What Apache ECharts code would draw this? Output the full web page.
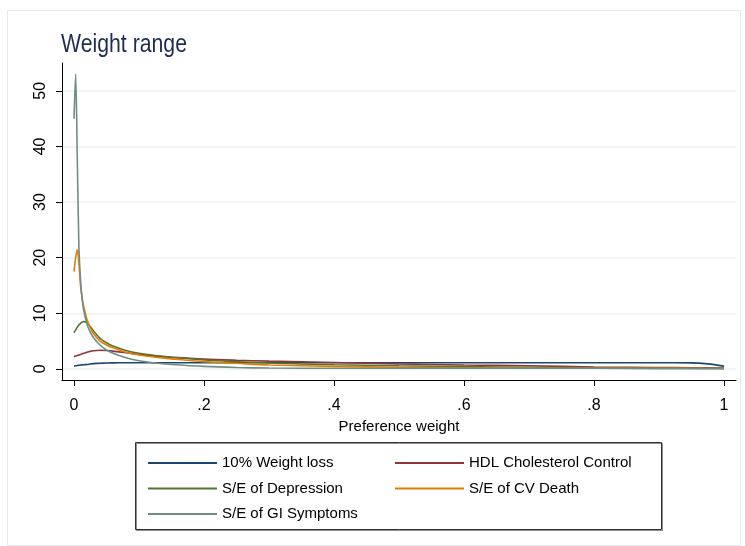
<!DOCTYPE html>
<html>
<head>
<meta charset="utf-8">
<script src="https://cdn.jsdelivr.net/npm/echarts@6/dist/echarts.min.js"></script>
<style>
  html, body { margin: 0; padding: 0; background: #fff; }
  #chart { width: 745px; height: 546px; }
</style>
</head>
<body>
<div id="chart"></div>
<script>
// Preference weight grid shared by all density curves
const prefWeight = [0, 0.0025, 0.005, 0.0075, 0.01, 0.0125, 0.015, 0.02, 0.025, 0.03, 0.04, 0.05, 0.06, 0.08, 0.1, 0.125, 0.15, 0.2, 0.25, 0.3, 0.4, 0.5, 0.6, 0.7, 0.8, 0.9, 0.95, 0.975, 1];

// Density of each attribute's preference weight
const weightLoss   = [0.5, 0.55, 0.6, 0.65, 0.7, 0.72, 0.75, 0.8, 0.88, 0.95, 1.0, 1.05, 1.08, 1.1, 1.1, 1.1, 1.1, 1.1, 1.1, 1.1, 1.1, 1.1, 1.1, 1.1, 1.1, 1.1, 1.08, 0.9, 0.5];
const hdlControl   = [2.2, 2.3, 2.4, 2.5, 2.6, 2.7, 2.8, 3.0, 3.15, 3.25, 3.35, 3.3, 3.2, 2.9, 2.6, 2.3, 2.1, 1.75, 1.55, 1.4, 1.15, 0.9, 0.7, 0.55, 0.35, 0.25, 0.2, 0.18, 0.15];
const depression   = [6.5, 7.0, 7.5, 7.9, 8.2, 8.4, 8.5, 8.3, 7.6, 6.8, 5.5, 4.7, 4.1, 3.3, 2.8, 2.4, 2.1, 1.6, 1.3, 1.05, 0.75, 0.55, 0.4, 0.3, 0.2, 0.15, 0.12, 0.1, 0.1];
const cvDeath      = [17.5, 20, 21.4, 19, 15, 12.8, 11.2, 8.9, 7.4, 6.3, 5.0, 4.3, 3.8, 3.0, 2.5, 2.1, 1.8, 1.3, 1.0, 0.7, 0.45, 0.3, 0.2, 0.15, 0.1, 0.1, 0.1, 0.08, 0.05];
const giSymptoms   = [45, 53, 38, 22, 16, 12.5, 10.5, 8.0, 6.6, 5.6, 4.3, 3.4, 2.8, 2.0, 1.45, 1.05, 0.8, 0.45, 0.25, 0.15, 0.1, 0.1, 0.1, 0.1, 0.1, 0.05, 0.05, 0.05, 0.05];

const seriesNames  = ['10% Weight loss', 'HDL Cholesterol Control', 'S/E of Depression', 'S/E of CV Death', 'S/E of GI Symptoms'];
const seriesValues = [weightLoss, hdlControl, depression, cvDeath, giSymptoms];
const seriesColors = ['#1a476f', '#90353b', '#55752f', '#e37e00', '#6e8e84'];

const xTicks = [0, 0.2, 0.4, 0.6, 0.8, 1];
const yTicks = [0, 10, 20, 30, 40, 50];

const FONT = '"Liberation Sans", Arial, sans-serif';

function fmtX(v) {
  if (v === 0) return '0';
  if (v === 1) return '1';
  return String(Math.round(v * 10) / 10).replace(/^0/, '');
}

const chart = echarts.init(document.getElementById('chart'), null, { renderer: 'canvas' });

const series = seriesNames.map((name, i) => ({
  name: name,
  type: 'line',
  data: prefWeight.map((x, k) => [x, seriesValues[i][k]]),
  showSymbol: false,
  symbol: 'none',
  smooth: 0.3,
  lineStyle: { color: seriesColors[i], width: 1.6 },
  itemStyle: { color: seriesColors[i] },
  emphasis: { disabled: true },
  z: 2 + i
}));

const legendText = { fontFamily: FONT, fontSize: 15, color: '#000', lineHeight: 18 };

chart.setOption({
  animation: false,
  backgroundColor: '#ffffff',
  grid: { left: 62, top: 63, width: 674, height: 317, containLabel: false },
  xAxis: {
    type: 'value',
    min: -0.0185,
    max: 1.0185,
    name: 'Preference weight',
    nameLocation: 'middle',
    nameGap: 34,
    nameTextStyle: { fontFamily: FONT, fontSize: 15, color: '#000' },
    axisLine: { show: true, onZero: false, lineStyle: { color: '#000', width: 1 } },
    axisTick: { show: true, length: 6, customValues: xTicks, lineStyle: { color: '#000' } },
    axisLabel: { customValues: xTicks, formatter: fmtX, fontFamily: FONT, fontSize: 16, color: '#000', margin: 18 },
    splitLine: { show: false }
  },
  yAxis: {
    type: 'value',
    min: -2,
    max: 55,
    axisLine: { show: true, onZero: false, lineStyle: { color: '#000', width: 1 } },
    axisTick: { show: true, length: 6, customValues: yTicks, lineStyle: { color: '#000' } },
    axisLabel: { customValues: yTicks, rotate: 90, fontFamily: FONT, fontSize: 16, color: '#000', margin: 13 },
    splitLine: { show: true, lineStyle: { color: '#eaf2f3', width: 1.5 } }
  },
  legend: [
    {
      data: [seriesNames[0], seriesNames[2], seriesNames[4]],
      orient: 'vertical',
      left: 143,
      top: 449,
      itemWidth: 69,
      itemHeight: 2,
      icon: 'rect',
      itemGap: 7.5,
      selectedMode: false,
      textStyle: legendText
    },
    {
      data: [seriesNames[1], seriesNames[3]],
      orient: 'vertical',
      left: 390,
      top: 449,
      itemWidth: 69,
      itemHeight: 2,
      icon: 'rect',
      itemGap: 7.5,
      selectedMode: false,
      textStyle: legendText
    }
  ],
  graphic: [
    {
      type: 'text',
      x: 61,
      y: 33,
      scaleX: 0.85,
      style: { text: 'Weight range', font: '25px "Liberation Sans", Arial, sans-serif', fill: '#1e2d53', textVerticalAlign: 'top' },
      silent: true
    },
    {
      type: 'rect',
      shape: { x: 7.5, y: 10.5, width: 733, height: 535 },
      style: { fill: 'none', stroke: '#e3ebee', lineWidth: 1 },
      silent: true, z: -1
    },
    {
      type: 'rect',
      shape: { x: 135.5, y: 442.5, width: 526, height: 87 },
      style: { fill: 'none', stroke: '#333', lineWidth: 1, shadowColor: 'rgba(0,0,0,0.45)', shadowOffsetX: 1, shadowOffsetY: 1, shadowBlur: 0 },
      silent: true, z: 1
    }
  ],
  series: series
});
</script>
</body>
</html>
